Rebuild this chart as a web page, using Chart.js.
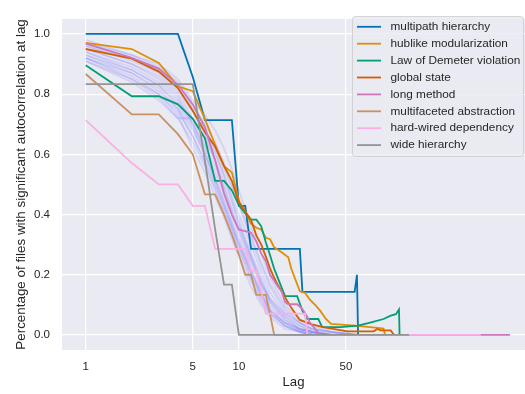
<!DOCTYPE html>
<html>
<head>
<meta charset="utf-8">
<script src="https://cdn.jsdelivr.net/npm/chart.js@4.4.1/dist/chart.umd.min.js"></script>
<style>
  html, body { margin: 0; padding: 0; background: #fff; overflow: hidden; }
</style>
</head>
<body>
<canvas id="chart" width="525" height="394"></canvas>
<script>
// Tick labels
const xTicks = [1, 5, 10, 50];
const yTicks = [0, 0.2, 0.4, 0.6, 0.8, 1.0];

// Highlighted smells (lag, fraction of files)
const multipathLag = [1, 4, 5, 6, 9, 10, 11, 12, 25, 26, 57, 59, 60];
const multipathVal = [1, 1, 0.857, 0.714, 0.714, 0.429, 0.429, 0.286, 0.286, 0.143, 0.143, 0.2, 0];

const hublikeLag = [1, 2, 3, 4, 5, 6, 7, 8, 9, 10, 11, 12, 13, 14, 15, 16, 17, 19, 21, 22, 25, 27, 29, 32, 34, 37, 40, 57, 72, 88, 90];
const hublikeVal = [0.97, 0.95, 0.904, 0.826, 0.81, 0.718, 0.631, 0.561, 0.54, 0.445, 0.41, 0.37, 0.356, 0.35, 0.323, 0.318, 0.291, 0.275, 0.258, 0.22, 0.145, 0.14, 0.118, 0.096, 0.08, 0.053, 0.037, 0.031, 0.026, 0.021, 0];

const demeterLag = [1, 2, 3, 4, 5, 6, 7, 8, 9, 10, 11, 12, 13, 14, 15, 16, 17, 18, 20, 24, 26, 28, 33, 35, 46, 60, 73, 88, 98, 106, 111, 112];
const demeterVal = [0.896, 0.793, 0.793, 0.766, 0.718, 0.653, 0.512, 0.512, 0.48, 0.431, 0.404, 0.383, 0.383, 0.361, 0.307, 0.264, 0.22, 0.188, 0.129, 0.129, 0.08, 0.053, 0.053, 0.026, 0.026, 0.031, 0.042, 0.053, 0.064, 0.069, 0.085, 0];

const globalLag = [1, 2, 3, 4, 5, 6, 7, 8, 9, 10, 11, 12, 13, 14, 15, 16, 17, 18, 20, 22, 25, 30, 36, 44, 51, 76, 80, 84, 98, 103];
const globalVal = [0.95, 0.918, 0.875, 0.82, 0.745, 0.674, 0.626, 0.561, 0.512, 0.44, 0.41, 0.383, 0.33, 0.3, 0.26, 0.22, 0.19, 0.165, 0.125, 0.09, 0.05, 0.035, 0.025, 0.018, 0.012, 0.012, 0.02, 0.015, 0.015, 0];

const longLag = [1, 2, 3, 4, 5, 6, 7, 8, 9, 10, 11, 12, 13, 14, 15, 16, 17, 18, 19, 20, 21, 24, 26, 28, 29, 32, 34, 590];
const longVal = [0.968, 0.921, 0.885, 0.831, 0.766, 0.69, 0.58, 0.47, 0.4, 0.35, 0.345, 0.34, 0.31, 0.27, 0.245, 0.2, 0.18, 0.16, 0.145, 0.11, 0.102, 0.102, 0.086, 0.06, 0.042, 0.015, 0, 0];

const facetedLag = [1, 2, 3, 4, 5, 6, 7, 8, 9, 10, 11, 12, 13, 15, 16, 17, 100];
const facetedVal = [0.867, 0.733, 0.733, 0.667, 0.6, 0.467, 0.467, 0.4, 0.333, 0.267, 0.2, 0.2, 0.133, 0.133, 0.067, 0, 0];

const hardwiredLag = [1, 2, 3, 4, 5, 6, 7, 11, 12, 13, 14, 15, 27, 28, 380];
const hardwiredVal = [0.714, 0.571, 0.5, 0.5, 0.429, 0.429, 0.286, 0.286, 0.214, 0.214, 0.143, 0.071, 0.071, 0, 0];

const wideLag = [1, 5, 6, 7, 8, 9, 10, 129];
const wideVal = [0.833, 0.833, 0.58, 0.35, 0.167, 0.167, 0, 0];

// Faint background smells
const bgLags = [1, 2, 3, 4, 5, 6, 7, 8, 9, 10, 12, 14, 16, 20, 25, 30, 40, 60, 100];
const bg1  = [0.98, 0.93, 0.90, 0.85, 0.78, 0.73, 0.68, 0.62, 0.55, 0.48, 0.36, 0.27, 0.19, 0.10, 0.05, 0.03, 0.01, 0, 0];
const bg2  = [0.97, 0.92, 0.88, 0.83, 0.76, 0.70, 0.64, 0.57, 0.50, 0.44, 0.33, 0.24, 0.17, 0.09, 0.04, 0.02, 0.01, 0, 0];
const bg3  = [0.96, 0.91, 0.87, 0.81, 0.74, 0.67, 0.60, 0.53, 0.46, 0.40, 0.30, 0.21, 0.14, 0.07, 0.03, 0.015, 0.005, 0, 0];
const bg4  = [0.95, 0.90, 0.86, 0.80, 0.72, 0.65, 0.58, 0.51, 0.44, 0.38, 0.27, 0.19, 0.12, 0.06, 0.03, 0.01, 0, 0, 0];
const bg5  = [0.94, 0.89, 0.84, 0.78, 0.71, 0.63, 0.56, 0.49, 0.42, 0.36, 0.26, 0.18, 0.11, 0.05, 0.02, 0.01, 0, 0, 0];
const bg6  = [0.93, 0.88, 0.83, 0.77, 0.70, 0.62, 0.54, 0.47, 0.40, 0.34, 0.24, 0.16, 0.10, 0.05, 0.02, 0.01, 0, 0, 0];
const bg7  = [0.92, 0.87, 0.82, 0.75, 0.68, 0.60, 0.52, 0.45, 0.38, 0.32, 0.22, 0.14, 0.09, 0.04, 0.015, 0.005, 0, 0, 0];
const bg8  = [0.92, 0.86, 0.80, 0.74, 0.66, 0.58, 0.50, 0.43, 0.36, 0.30, 0.20, 0.13, 0.08, 0.03, 0.01, 0, 0, 0, 0];
const bg9  = [0.91, 0.85, 0.79, 0.72, 0.72, 0.66, 0.58, 0.49, 0.41, 0.35, 0.25, 0.17, 0.12, 0.07, 0.04, 0.02, 0.01, 0, 0];
const bg10 = [0.91, 0.84, 0.78, 0.72, 0.64, 0.56, 0.48, 0.41, 0.34, 0.28, 0.18, 0.11, 0.07, 0.03, 0.01, 0, 0, 0, 0];
const bg11 = [0.97, 0.93, 0.89, 0.84, 0.77, 0.69, 0.61, 0.53, 0.45, 0.37, 0.26, 0.17, 0.11, 0.06, 0.02, 0.01, 0, 0, 0];
const bg12 = [0.95, 0.90, 0.85, 0.79, 0.70, 0.61, 0.52, 0.44, 0.37, 0.31, 0.21, 0.14, 0.08, 0.04, 0.02, 0.01, 0, 0, 0];
const bg13 = [0.93, 0.87, 0.81, 0.75, 0.66, 0.57, 0.49, 0.42, 0.35, 0.29, 0.19, 0.12, 0.07, 0.03, 0.01, 0, 0, 0, 0];
const bg14 = [0.96, 0.92, 0.88, 0.82, 0.75, 0.68, 0.62, 0.55, 0.49, 0.43, 0.32, 0.23, 0.16, 0.08, 0.04, 0.02, 0.01, 0, 0];
const bg15 = [0.94, 0.88, 0.83, 0.76, 0.69, 0.60, 0.51, 0.43, 0.36, 0.30, 0.21, 0.13, 0.08, 0.04, 0.015, 0.005, 0, 0, 0];
const bg16 = [0.92, 0.85, 0.80, 0.73, 0.62, 0.54, 0.46, 0.39, 0.32, 0.26, 0.16, 0.10, 0.06, 0.02, 0.01, 0, 0, 0, 0];

const FONT = '"Liberation Sans", Arial, sans-serif';
const TEXT = '#262626';

function pts(lags, vals) {
    return lags.map((l, i) => ({x: l, y: vals[i]}));
}

const smells = [
    {label: 'multipath hierarchy', color: '#0173b2', lags: multipathLag, vals: multipathVal},
    {label: 'hublike modularization', color: '#de8f05', lags: hublikeLag, vals: hublikeVal},
    {label: 'Law of Demeter violation', color: '#029e73', lags: demeterLag, vals: demeterVal},
    {label: 'global state', color: '#d55e00', lags: globalLag, vals: globalVal},
    {label: 'long method', color: '#cc78bc', lags: longLag, vals: longVal},
    {label: 'multifaceted abstraction', color: '#ca9161', lags: facetedLag, vals: facetedVal},
    {label: 'hard-wired dependency', color: '#fbafe4', lags: hardwiredLag, vals: hardwiredVal},
    {label: 'wide hierarchy', color: '#949494', lags: wideLag, vals: wideVal}
];

const background = [bg1, bg2, bg3, bg4, bg5, bg6, bg7, bg8, bg9, bg10, bg11, bg12, bg13, bg14, bg15, bg16];

const datasets = [];
background.forEach((vals) => {
    datasets.push({
        data: pts(bgLags, vals),
        borderColor: 'rgba(70, 70, 255, 0.14)',
        borderWidth: 1.8,
        pointRadius: 0,
        tension: 0,
        order: 100
    });
});
smells.forEach((s, i) => {
    datasets.push({
        label: s.label,
        data: pts(s.lags, s.vals),
        borderColor: s.color,
        borderWidth: 1.8,
        pointRadius: 0,
        tension: 0,
        order: smells.length - i
    });
});

const bgPlugin = {
    id: 'bgPlugin',
    beforeDraw(chart) {
        const {ctx, chartArea: a} = chart;
        ctx.save();
        ctx.fillStyle = '#ffffff';
        ctx.fillRect(0, 0, chart.width, chart.height);
        ctx.fillStyle = '#eaeaf2';
        ctx.fillRect(a.left, a.top, a.right - a.left, a.bottom - a.top);
        ctx.restore();
    }
};

const legendPlugin = {
    id: 'legendPlugin',
    afterDraw(chart) {
        const ctx = chart.ctx;
        const x = 352.5, y = 16.5, w = 171, h = 140, r = 3;
        ctx.save();
        ctx.beginPath();
        ctx.moveTo(x + r, y);
        ctx.lineTo(x + w - r, y);
        ctx.quadraticCurveTo(x + w, y, x + w, y + r);
        ctx.lineTo(x + w, y + h - r);
        ctx.quadraticCurveTo(x + w, y + h, x + w - r, y + h);
        ctx.lineTo(x + r, y + h);
        ctx.quadraticCurveTo(x, y + h, x, y + h - r);
        ctx.lineTo(x, y + r);
        ctx.quadraticCurveTo(x, y, x + r, y);
        ctx.closePath();
        ctx.fillStyle = 'rgba(234, 234, 242, 0.8)';
        ctx.fill();
        ctx.strokeStyle = 'rgba(204, 204, 204, 0.8)';
        ctx.lineWidth = 1;
        ctx.stroke();

        ctx.font = '11.8px ' + FONT;
        ctx.textBaseline = 'middle';
        ctx.textAlign = 'left';
        smells.forEach((s, i) => {
            const ly = 26.8 + i * 16.9;
            ctx.strokeStyle = s.color;
            ctx.lineWidth = 1.8;
            ctx.beginPath();
            ctx.moveTo(357, ly);
            ctx.lineTo(381, ly);
            ctx.stroke();
            ctx.fillStyle = TEXT;
            ctx.fillText(s.label, 390.5, ly);
        });
        ctx.restore();
    }
};

new Chart(document.getElementById('chart'), {
    type: 'line',
    data: {datasets: datasets},
    options: {
        responsive: false,
        animation: false,
        devicePixelRatio: 1,
        layout: {padding: {top: 12, right: 0, left: 0, bottom: 0}},
        plugins: {
            legend: {display: false},
            tooltip: {enabled: false}
        },
        scales: {
            x: {
                type: 'logarithmic',
                min: 0.727,
                max: 738,
                afterBuildTicks: (scale) => {
                    scale.ticks = xTicks.map(v => ({value: v}));
                },
                afterFit: (scale) => { scale.height = 44; },
                grid: {color: '#ffffff', lineWidth: 1.2, drawTicks: false},
                border: {display: false},
                ticks: {
                    autoSkip: false,
                    maxRotation: 0,
                    padding: 10,
                    color: TEXT,
                    font: {family: FONT, size: 11.5},
                    callback: (v) => String(v)
                },
                title: {
                    display: true,
                    text: 'Lag',
                    color: TEXT,
                    font: {family: FONT, size: 13.2},
                    padding: {top: 0, bottom: 4}
                }
            },
            y: {
                min: -0.05,
                max: 1.05,
                afterBuildTicks: (scale) => {
                    scale.ticks = yTicks.map(v => ({value: v}));
                },
                afterFit: (scale) => { scale.width = 62; },
                grid: {color: '#ffffff', lineWidth: 1.2, drawTicks: false},
                border: {display: false},
                ticks: {
                    padding: 12,
                    color: TEXT,
                    font: {family: FONT, size: 11.5},
                    callback: (v) => v.toFixed(1)
                },
                title: {
                    display: true,
                    text: 'Percentage of files with significant autocorrelation at lag',
                    color: TEXT,
                    font: {family: FONT, size: 13.4},
                    padding: {top: 13, bottom: 0}
                }
            }
        }
    },
    plugins: [bgPlugin, legendPlugin]
});
</script>
</body>
</html>
